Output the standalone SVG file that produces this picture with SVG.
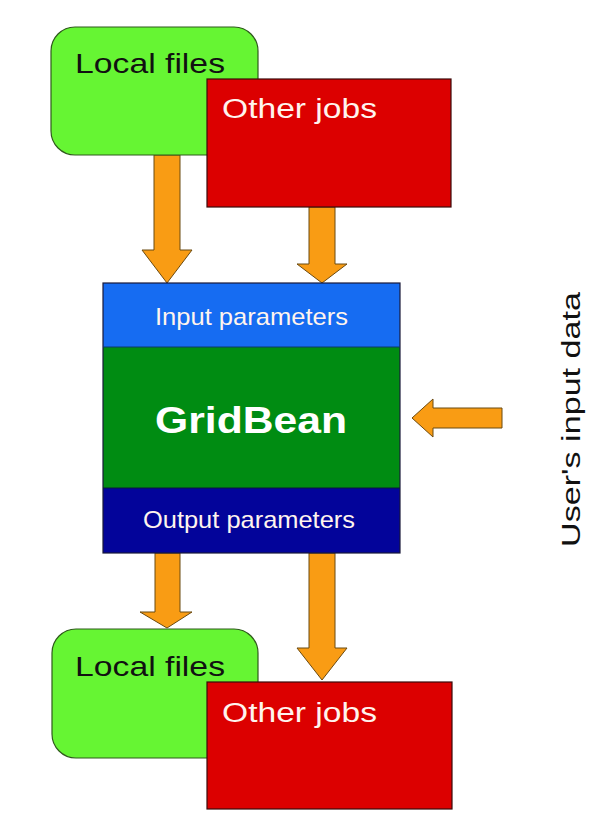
<svg xmlns="http://www.w3.org/2000/svg" width="600" height="837" viewBox="0 0 600 837">
  <style>
    .files { fill: #66f533; stroke: #2f5a1c; stroke-width: 1.2; }
    .jobs { fill: #dc0000; stroke: #3a0a0a; stroke-width: 1.2; }
    .arrow { fill: #f99c14; stroke: #6b4a10; stroke-width: 1; }
    .lbl { font-family: "Liberation Sans", Arial, sans-serif; }
    .dark { fill: #111111; }
    .light { fill: #fff4ee; }
  </style>
  <rect width="600" height="837" fill="#ffffff"/>

  <!-- flow arrows -->
  <g id="connectors">
    <polygon class="arrow" points="154,155 180,155 180,250 192,250 167,283 142,250 154,250"/>
    <polygon class="arrow" points="309,207 335,207 335,264 347,264 322,283 297,264 309,264"/>
    <polygon class="arrow" points="502,408 502,428 433,428 433,437 412,418 433,399 433,408"/>
    <polygon class="arrow" points="155,553 180,553 180,612 192,612 167,628 140,612 155,612"/>
    <polygon class="arrow" points="309,553 335,553 335,648 347,648 322,680 297,648 309,648"/>
  </g>

  <g id="local-files-in">
    <rect class="files" x="51" y="27" width="207" height="128" rx="24"/>
    <text class="lbl dark" x="75" y="73" font-size="28" textLength="150" lengthAdjust="spacingAndGlyphs">Local files</text>
  </g>
  <g id="other-jobs-in">
    <rect class="jobs" x="207" y="79" width="244" height="128"/>
    <text class="lbl light" x="222" y="118" font-size="27" textLength="155" lengthAdjust="spacingAndGlyphs">Other jobs</text>
  </g>

  <g id="gridbean">
    <rect x="103" y="283" width="297" height="64" fill="#166cf2"/>
    <rect x="103" y="347" width="297" height="141" fill="#008c12"/>
    <rect x="103" y="488" width="297" height="65" fill="#03049a"/>
    <rect x="103" y="283" width="297" height="270" fill="none" stroke="#1a1a3a" stroke-width="1.2"/>
    <line x1="103" y1="347" x2="400" y2="347" stroke="#0a3a6a" stroke-width="1"/>
    <line x1="103" y1="488" x2="400" y2="488" stroke="#0a1a3a" stroke-width="1"/>
    <text class="lbl light" x="155" y="325" font-size="24" textLength="193" lengthAdjust="spacingAndGlyphs">Input parameters</text>
    <text class="lbl" x="155" y="433" font-size="36" font-weight="bold" fill="#ffffff" textLength="192" lengthAdjust="spacingAndGlyphs">GridBean</text>
    <text class="lbl light" x="143" y="528" font-size="24" textLength="212" lengthAdjust="spacingAndGlyphs">Output parameters</text>
  </g>

  <g id="user-input">
    <text class="lbl dark" transform="translate(580,547) rotate(-90)" font-size="26" textLength="255" lengthAdjust="spacingAndGlyphs">User's input data</text>
  </g>

  <g id="local-files-out">
    <rect class="files" x="52" y="629" width="206" height="129" rx="24"/>
    <text class="lbl dark" x="75" y="676" font-size="28" textLength="150" lengthAdjust="spacingAndGlyphs">Local files</text>
  </g>
  <g id="other-jobs-out">
    <rect class="jobs" x="207" y="682" width="245" height="127"/>
    <text class="lbl light" x="222" y="722" font-size="27" textLength="155" lengthAdjust="spacingAndGlyphs">Other jobs</text>
  </g>
</svg>
